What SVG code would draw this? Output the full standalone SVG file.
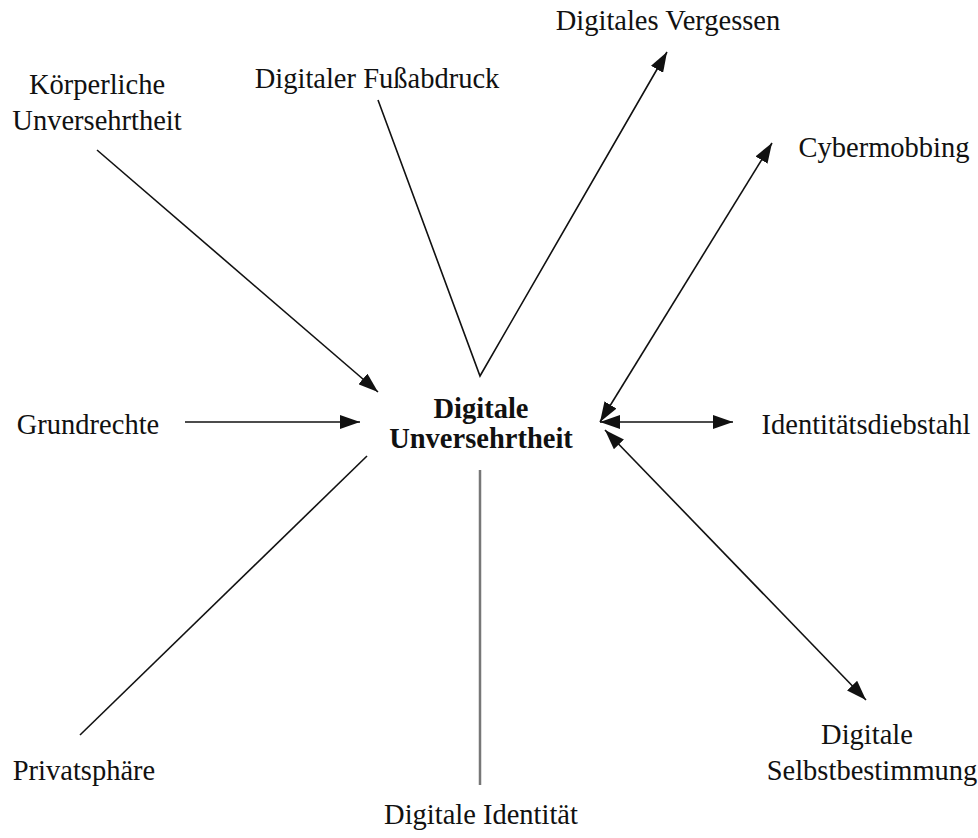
<svg xmlns="http://www.w3.org/2000/svg" width="978" height="838" viewBox="0 0 978 838">
<style>
text{font-family:"Liberation Serif","Times New Roman",serif;font-size:28.5px;fill:#111}
.c{text-anchor:middle}
.b{font-weight:bold}
.ln{stroke:#111;stroke-width:1.6;fill:none}
.g{stroke:#777;stroke-width:2.5;fill:none}
</style>
<defs>
<marker id="a" viewBox="0 0 20 14" refX="20" refY="7" markerWidth="20" markerHeight="14" markerUnits="userSpaceOnUse" orient="auto-start-reverse">
<path d="M0,0 L20,7 L0,14 z" fill="#111"/>
</marker>
</defs>
<rect width="978" height="838" fill="#fff"/>
<g id="connectors">
<line class="ln" x1="97" y1="150" x2="378" y2="392" marker-end="url(#a)"/>
<polyline class="ln" points="378,100 480,376 667,52" marker-end="url(#a)"/>
<line class="ln" x1="772" y1="143" x2="600" y2="422" marker-start="url(#a)" marker-end="url(#a)"/>
<line class="ln" x1="600" y1="422" x2="733" y2="422" stroke-width="2.5" marker-start="url(#a)" marker-end="url(#a)"/>
<line class="ln" x1="605" y1="430" x2="866" y2="700" marker-start="url(#a)" marker-end="url(#a)"/>
<line class="ln" x1="185" y1="422" x2="360" y2="422" marker-end="url(#a)"/>
<line class="ln" x1="80" y1="735" x2="367" y2="456"/>
<line class="g" x1="480" y1="470" x2="480" y2="785"/>
</g>
<g id="center"><text class="c b" x="481" y="418">Digitale</text><text class="c b" x="481" y="448">Unversehrtheit</text></g>
<g id="koerperliche"><text class="c" x="97" y="94">Körperliche</text><text class="c" x="97" y="130">Unversehrtheit</text></g>
<g id="fussabdruck"><text class="c" x="377" y="88">Digitaler Fußabdruck</text></g>
<g id="vergessen"><text class="c" x="668" y="30">Digitales Vergessen</text></g>
<g id="cybermobbing"><text class="c" x="884" y="157">Cybermobbing</text></g>
<g id="grundrechte"><text class="c" x="88" y="434">Grundrechte</text></g>
<g id="identitaetsdiebstahl"><text class="c" x="866" y="434">Identitätsdiebstahl</text></g>
<g id="privatsphaere"><text class="c" x="84" y="780">Privatsphäre</text></g>
<g id="selbstbestimmung"><text class="c" x="867" y="744">Digitale</text><text class="c" x="872" y="780">Selbstbestimmung</text></g>
<g id="identitaet"><text class="c" x="481" y="824">Digitale Identität</text></g>
</svg>
